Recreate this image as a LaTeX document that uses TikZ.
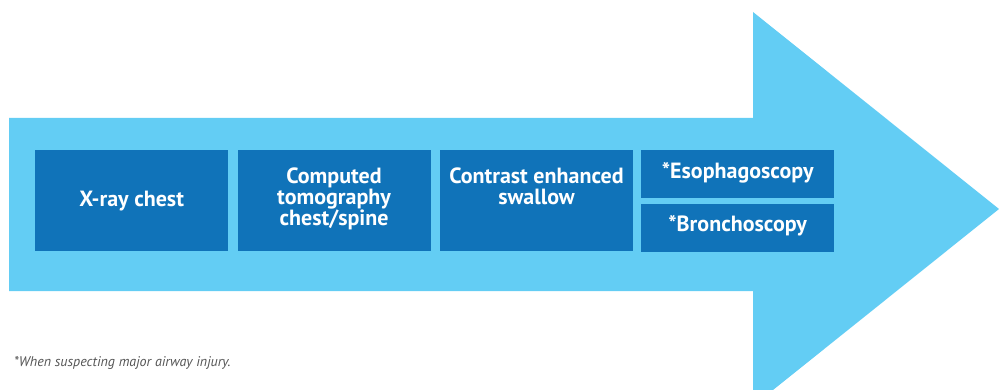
\documentclass[tikz,border=0pt]{standalone}
\usepackage{fontspec}
\setmainfont{PT Sans}
\usetikzlibrary{positioning}
\definecolor{arrowblue}{RGB}{99,205,244}
\definecolor{boxblue}{RGB}{16,115,185}
\definecolor{notegray}{RGB}{85,85,85}
\begin{document}
\begin{tikzpicture}[x=1pt,y=-1pt,node distance=9pt,
    exam/.style={fill=boxblue,text=white,inner sep=0pt,align=center,
      minimum width=193pt,minimum height=101pt,
      font=\fontsize{22}{21}\selectfont\bfseries},
    halfexam/.style={exam,minimum height=48pt}]
   \clip (0,0) rectangle (999,390);
   % big arrow
   \fill[arrowblue] (9,118) -- (753,118) -- (753,12) -- (999,209)
      -- (753,406) -- (753,291) -- (9,291) -- cycle;
   \node[exam,anchor=north west] (xray) at (35,150) {X-ray chest};
   \node[exam,text depth=8pt] (ct) [right=of xray] {Computed\\tomography\\chest/spine};
   \node[exam,text depth=30pt] (swallow) [right=of ct] {Contrast enhanced\\swallow};
   \node[halfexam,anchor=north west,text depth=8pt] (eso) at (641,150) {*Esophagoscopy};
   \node[halfexam,text depth=8pt] (bronch) [below=5pt of eso] {*Bronchoscopy};
   \node[anchor=base west,text=notegray,inner sep=0pt,
      font=\fontsize{14}{16}\selectfont\itshape] (note) at (14,366)
      {*When suspecting major airway injury.};
\end{tikzpicture}
\end{document}
